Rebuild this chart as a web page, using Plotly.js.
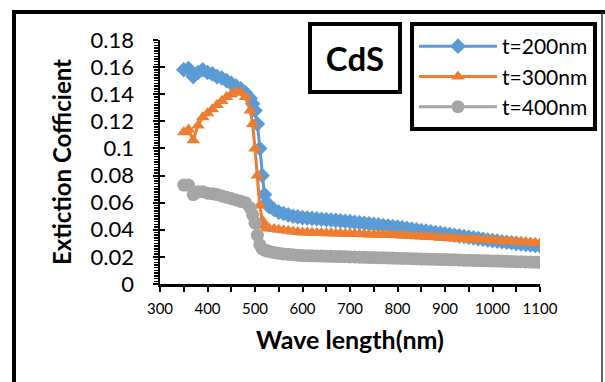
<!DOCTYPE html>
<html>
<head>
<meta charset="utf-8">
<script src="https://cdn.plot.ly/plotly-3.0.1.min.js"></script>
<style>html,body{margin:0;padding:0;background:#fff;}#chart{width:605px;height:382px;}</style>
</head>
<body>
<div id="chart"></div>
<script>
// Wavelength (nm)
const wavelength = [350,360,370,380,390,400,410,420,430,440,450,460,470,480,490,495,500,505,510,515,520,525,530,
  540,550,560,570,580,590,600,610,620,630,640,650,660,670,680,690,700,710,720,730,740,750,760,770,780,790,800,
  810,820,830,840,850,860,870,880,890,900,910,920,930,940,950,960,970,980,990,1000,1010,1020,1030,1040,1050,1060,1070,1080,1090,1100];

// Extinction coefficient, t=200nm
const k200 = [0.158,0.159,0.153,0.156,0.158,0.156,0.155,0.153,0.152,0.150,0.148,0.146,0.144,0.141,0.137,0.133,0.128,0.118,0.100,0.080,0.066,0.060,0.057,
  0.055,0.053,0.052,0.051,0.050,0.0495,0.049,0.0487,0.0484,0.0481,0.0478,0.0475,0.0472,0.0469,0.0466,0.0463,0.0460,0.0456,0.0452,0.0448,0.0444,0.0440,0.0436,0.0432,0.0428,0.0424,0.0420,
  0.0415,0.0410,0.0405,0.0400,0.0395,0.0390,0.0385,0.0380,0.0375,0.0370,0.0365,0.0360,0.0355,0.0350,0.0345,0.0340,0.0335,0.0330,0.0325,0.0320,0.0316,0.0312,0.0308,0.0304,0.0300,0.0296,0.0292,0.0288,0.0284,0.0280];

// Extinction coefficient, t=300nm
const k300 = [0.112,0.114,0.106,0.117,0.123,0.126,0.129,0.132,0.135,0.138,0.140,0.142,0.141,0.138,0.128,0.118,0.100,0.080,0.058,0.047,0.043,0.0415,0.041,
  0.0405,0.0400,0.0396,0.0392,0.0388,0.0384,0.0380,0.0379,0.0378,0.0377,0.0376,0.0375,0.0374,0.0373,0.0372,0.0371,0.0370,0.0369,0.0368,0.0367,0.0366,0.0365,0.0364,0.0363,0.0362,0.0361,0.0360,
  0.0358,0.0356,0.0354,0.0352,0.0350,0.0348,0.0346,0.0344,0.0342,0.0340,0.0338,0.0336,0.0334,0.0332,0.0330,0.0328,0.0326,0.0325,0.0324,0.0322,0.0320,0.0318,0.0316,0.0314,0.0312,0.0310,0.0308,0.0306,0.0303,0.0300];

// Extinction coefficient, t=400nm
const k400 = [0.073,0.073,0.066,0.068,0.068,0.067,0.0665,0.066,0.065,0.064,0.063,0.062,0.061,0.060,0.056,0.051,0.045,0.036,0.029,0.026,0.025,0.0245,0.024,
  0.0232,0.0226,0.0222,0.0219,0.0216,0.0213,0.0210,0.0209,0.0208,0.0207,0.0206,0.0205,0.0204,0.0203,0.0202,0.0201,0.0200,0.0199,0.0198,0.0197,0.0196,0.0195,0.0194,0.0193,0.0192,0.0191,0.0190,
  0.0189,0.0188,0.0187,0.0186,0.0185,0.0184,0.0183,0.0182,0.0181,0.0180,0.0179,0.0178,0.0177,0.0176,0.0175,0.0174,0.0173,0.0172,0.0171,0.0170,0.0169,0.0168,0.0167,0.0166,0.0165,0.0164,0.0163,0.0162,0.0161,0.0160];

const seriesNames = ['t=200nm','t=300nm','t=400nm'];
const xTicks = [300,400,500,600,700,800,900,1000,1100];
const yTicks = [0,0.02,0.04,0.06,0.08,0.1,0.12,0.14,0.16,0.18];

const FONT = 'Lato, "Open Sans", sans-serif';

const traces = [
  {x: wavelength, y: k200, name: seriesNames[0], mode: 'lines+markers',
   line: {color: '#5B9BD5', width: 3}, marker: {symbol: 'diamond', size: 12, color: '#5B9BD5'}},
  {x: wavelength, y: k300, name: seriesNames[1], mode: 'lines+markers',
   line: {color: '#ED7D31', width: 3}, marker: {symbol: 'triangle-up', size: 12, color: '#ED7D31'}},
  {x: wavelength, y: k400, name: seriesNames[2], mode: 'lines+markers',
   line: {color: '#A5A5A5', width: 3}, marker: {symbol: 'circle', size: 13, color: '#A5A5A5'}},
  {x: [300], y: [0], yaxis: 'y2', showlegend: false, hoverinfo: 'skip', mode: 'markers', marker: {opacity: 0}}
];

const px = v => (v - 160) / 380;
const py = v => (284 - v) / 244;

const layout = {
  width: 605, height: 382,
  margin: {l: 160, r: 65, t: 40, b: 98, autoexpand: false},
  paper_bgcolor: '#fff', plot_bgcolor: '#fff',
  font: {family: FONT, color: '#000'},
  showlegend: true,
  xaxis: {
    range: [300, 1100], tickvals: xTicks, ticktext: xTicks.map(String), tickangle: 0,
    showgrid: false, zeroline: false, showline: true, linecolor: '#000', linewidth: 2.5,
    ticks: 'outside', ticklen: 5, tickwidth: 2, tickcolor: '#000',
    minor: {dtick: 50, ticks: 'outside', ticklen: 5, tickwidth: 2, tickcolor: '#000', showgrid: false},
    tickfont: {size: 15, family: FONT, color: '#000'},
    ticklabelstandoff: 4,
    title: {text: '<b>Wave length(nm)</b>', font: {size: 25, family: FONT}, standoff: 16}
  },
  yaxis: {
    range: [0, 0.18], tickvals: yTicks, ticktext: yTicks.map(String),
    showgrid: false, zeroline: false, showline: true, linecolor: '#000', linewidth: 2.5,
    ticks: 'outside', ticklen: 5, tickwidth: 2, tickcolor: '#000',
    minor: {dtick: 0.002, ticks: 'outside', ticklen: 4, tickwidth: 1.5, tickcolor: '#000', showgrid: false},
    tickfont: {size: 22, family: FONT, color: '#000'},
    ticklabelstandoff: 14,
    title: {text: '<b>Extiction Cofficient</b>', font: {size: 24, family: FONT}, standoff: 12}
  },
  yaxis2: {
    overlaying: 'y', side: 'left', range: [0, 0.18], tickvals: yTicks,
    showticklabels: false, showgrid: false, zeroline: false, showline: false,
    ticks: 'inside', ticklen: 5, tickwidth: 2, tickcolor: '#000'
  },
  legend: {
    xref: 'paper', yref: 'paper', x: px(410), y: py(22), xanchor: 'left', yanchor: 'top',
    bordercolor: '#000', borderwidth: 4, bgcolor: '#fff',
    font: {size: 21, family: FONT, color: '#000'}, itemwidth: 78, tracegroupgap: 0
  },
  annotations: [{
    xref: 'paper', yref: 'paper', x: px(354.5), y: py(57.5), xanchor: 'center', yanchor: 'middle',
    text: '<b>CdS</b>', showarrow: false, font: {size: 33, family: FONT, color: '#000'},
    bordercolor: '#000', borderwidth: 4, bgcolor: '#fff', width: 84, height: 62
  }],
  shapes: [
    {type: 'line', xref: 'paper', yref: 'paper', x0: px(14), x1: px(14), y0: py(10), y1: py(400), line: {color: '#000', width: 4}},
    {type: 'line', xref: 'paper', yref: 'paper', x0: px(12), x1: px(610), y0: py(12), y1: py(12), line: {color: '#000', width: 4}},
    {type: 'line', xref: 'paper', yref: 'paper', x0: px(602), x1: px(602), y0: py(12), y1: py(400), line: {color: '#333', width: 1.5}}
  ]
};

Plotly.newPlot('chart', traces, layout, {staticPlot: true, displayModeBar: false});
</script>
</body>
</html>
